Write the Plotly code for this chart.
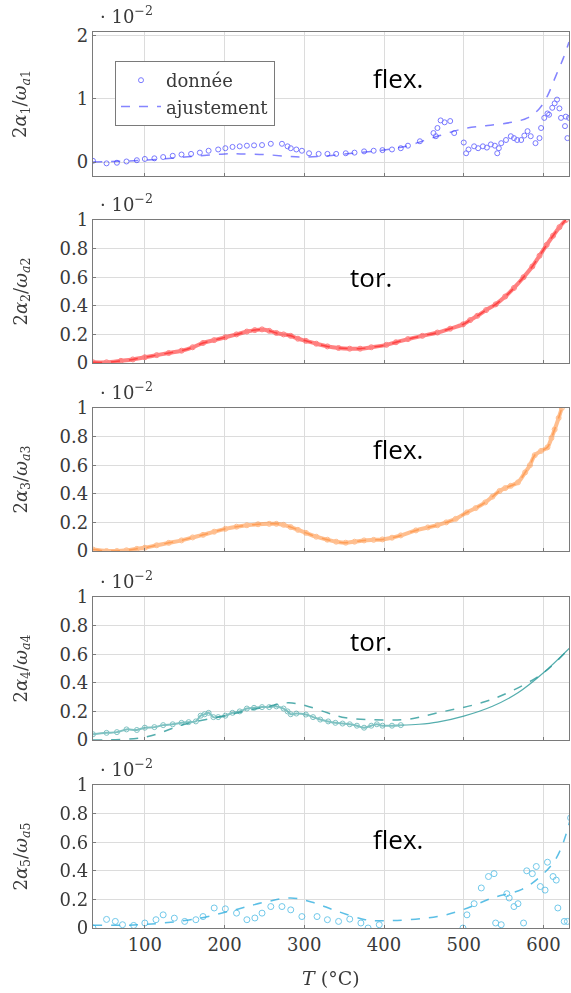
import plotly.graph_objects as go
from plotly.subplots import make_subplots

# ---------------- data ----------------
T1 = [35, 52, 65, 77, 90, 100, 112, 123, 135, 146, 158, 169, 180, 192, 201, 210, 219, 228, 237, 247,
      258, 272, 279, 283, 290, 297, 306, 318, 329, 340, 352, 363, 375, 387, 398, 410, 421, 430, 445,
      462, 465, 467, 471, 476, 483, 488, 500, 503, 506, 513, 518, 524, 529, 534, 539, 542, 544, 547,
      553, 559, 563, 567, 572, 576, 580, 584, 590, 595, 597, 601, 605, 607, 611, 614, 617, 620, 622,
      627, 628, 630, 632]
V1 = [0.02, -0.02, -0.01, 0.01, 0.03, 0.05, 0.06, 0.08, 0.10, 0.12, 0.13, 0.15, 0.18, 0.20, 0.22, 0.24,
      0.25, 0.26, 0.265, 0.27, 0.29, 0.29, 0.25, 0.22, 0.20, 0.18, 0.14, 0.13, 0.13, 0.13, 0.14, 0.15,
      0.17, 0.18, 0.19, 0.20, 0.22, 0.26, 0.33, 0.46, 0.41, 0.54, 0.66, 0.63, 0.65, 0.46, 0.31, 0.14,
      0.20, 0.25, 0.22, 0.25, 0.23, 0.28, 0.26, 0.14, 0.22, 0.30, 0.35, 0.41, 0.38, 0.35, 0.35, 0.42,
      0.49, 0.41, 0.30, 0.38, 0.54, 0.70, 0.77, 0.75, 0.86, 0.93, 0.99, 0.85, 0.70, 0.57, 0.72, 0.38,
      0.70]
TF1 = [35, 100, 150, 200, 220, 250, 280, 300, 330, 360, 400, 430, 450, 470, 500, 530, 560, 580, 595,
       605, 615, 625, 632]
VF1 = [0.0, 0.03, 0.08, 0.13, 0.13, 0.12, 0.09, 0.08, 0.10, 0.14, 0.19, 0.26, 0.34, 0.42, 0.53, 0.58,
       0.63, 0.70, 0.85, 1.05, 1.35, 1.65, 1.90]

T2 = [35, 52, 70, 85, 100, 115, 130, 146, 160, 173, 187, 201, 215, 228, 238, 247, 256, 265, 274, 283,
      292, 302, 315, 329, 343, 357, 370, 384, 403, 415, 430, 448, 467, 483, 499, 508, 517, 528, 540,
      552, 563, 575, 586, 595, 604, 612, 620, 628]
V2 = [0.005, 0.005, 0.015, 0.025, 0.04, 0.055, 0.07, 0.086, 0.11, 0.14, 0.16, 0.18, 0.20, 0.22, 0.23,
      0.235, 0.225, 0.21, 0.20, 0.19, 0.17, 0.155, 0.135, 0.116, 0.105, 0.10, 0.10, 0.11, 0.127, 0.145,
      0.167, 0.19, 0.213, 0.24, 0.27, 0.30, 0.33, 0.37, 0.41, 0.465, 0.525, 0.60, 0.675, 0.75, 0.826,
      0.89, 0.95, 1.0]

T3 = [35, 52, 65, 77, 90, 100, 115, 130, 146, 160, 173, 187, 201, 215, 228, 242, 256, 265, 274, 283,
      292, 302, 315, 329, 340, 352, 363, 375, 387, 398, 410, 421, 440, 455, 467, 478, 490, 504, 515,
      527, 536, 545, 552, 559, 568, 577, 583, 589, 597, 605, 610, 614, 619, 623]
V3 = [0.01, 0.0, 0.0, 0.005, 0.015, 0.023, 0.04, 0.057, 0.074, 0.095, 0.113, 0.135, 0.155, 0.17, 0.18,
      0.187, 0.19, 0.19, 0.183, 0.167, 0.148, 0.127, 0.10, 0.079, 0.065, 0.058, 0.065, 0.074, 0.078,
      0.081, 0.093, 0.109, 0.144, 0.165, 0.18, 0.20, 0.225, 0.27, 0.30, 0.34, 0.38, 0.42, 0.44, 0.456,
      0.48, 0.55, 0.60, 0.67, 0.70, 0.725, 0.79, 0.85, 0.93, 1.0]

T4 = [35, 52, 65, 77, 90, 100, 112, 123, 135, 146, 155, 164, 170, 175, 180, 186, 192, 201, 210, 219,
      228, 237, 247, 256, 265, 274, 279, 283, 290, 302, 311, 320, 330, 339, 348, 357, 366, 375, 384,
      391, 398, 410, 421]
V4 = [0.04, 0.05, 0.055, 0.074, 0.07, 0.086, 0.09, 0.104, 0.11, 0.12, 0.125, 0.13, 0.17, 0.18, 0.19,
      0.16, 0.16, 0.17, 0.19, 0.20, 0.22, 0.225, 0.23, 0.23, 0.235, 0.22, 0.20, 0.18, 0.185, 0.178,
      0.16, 0.143, 0.13, 0.12, 0.115, 0.11, 0.10, 0.086, 0.10, 0.11, 0.10, 0.10, 0.104]
T4B = [421, 444, 467, 500, 536, 568, 600, 634]
V4B = [0.104, 0.11, 0.125, 0.167, 0.236, 0.33, 0.47, 0.65]
TF4 = [35, 100, 150, 200, 250, 280, 302, 329, 352, 398, 430, 467, 522, 559, 600, 634]
VF4 = [0.0, 0.02, 0.11, 0.17, 0.23, 0.26, 0.24, 0.19, 0.155, 0.14, 0.145, 0.19, 0.26, 0.34, 0.47, 0.65]

T5 = [35, 52, 63, 72, 86, 100, 114, 123, 137, 150, 164, 173, 187, 201, 215, 228, 238, 247, 258, 272,
      283, 297, 316, 329, 343, 357, 371, 380, 394, 499, 504, 513, 522, 531, 538, 540, 547, 554, 557,
      563, 568, 575, 579, 586, 591, 596, 602, 605, 612, 616, 618, 626, 630, 634]
V5 = [0.0, 0.06, 0.046, 0.023, 0.018, 0.035, 0.058, 0.092, 0.069, 0.046, 0.058, 0.08, 0.14, 0.134,
      0.104, 0.058, 0.07, 0.104, 0.15, 0.15, 0.127, 0.08, 0.08, 0.058, 0.046, 0.062, 0.035, 0.0, 0.023,
      0.0, 0.092, 0.17, 0.28, 0.36, 0.38, 0.035, 0.023, 0.24, 0.21, 0.15, 0.17, 0.035, 0.40, 0.38, 0.43,
      0.29, 0.265, 0.46, 0.36, 0.335, 0.14, 0.046, 0.046, 0.77]
TF5 = [35, 80, 123, 170, 215, 250, 283, 310, 340, 375, 398, 467, 500, 536, 573, 596, 614, 625, 634]
VF5 = [0.02, 0.02, 0.035, 0.07, 0.13, 0.18, 0.21, 0.18, 0.12, 0.06, 0.05, 0.08, 0.13, 0.21, 0.27,
       0.36, 0.47, 0.60, 0.77]

COLORS = ["#2020ff", "#ff1a1a", "#ff8a33", "#2a9a9a", "#33b0e0"]
MODES = ["flex.", "tor.", "flex.", "tor.", "flex."]
MODE_Y = [1.33, 0.6, 0.71, 0.69, 0.62]
YTITLES = ["2<i>α</i><sub>1</sub>/<i>ω</i><sub><i>a</i>1</sub>",
           "2<i>α</i><sub>2</sub>/<i>ω</i><sub><i>a</i>2</sub>",
           "2<i>α</i><sub>3</sub>/<i>ω</i><sub><i>a</i>3</sub>",
           "2<i>α</i><sub>4</sub>/<i>ω</i><sub><i>a</i>4</sub>",
           "2<i>α</i><sub>5</sub>/<i>ω</i><sub><i>a</i>5</sub>"]
XTICKS = [100, 200, 300, 400, 500, 600]

# ---------------- figure ----------------
W, H = 571, 993
ML, MR, MT, MB = 93, 2, 32, 65
PW, PH = W - ML - MR, H - MT - MB
panel_px = [(32, 176), (220, 363), (408, 551), (597, 740), (785, 928)]
domains = [[(H - MB - b) / PH, (H - MB - t) / PH] for t, b in panel_px]

fig = make_subplots(rows=5, cols=1, shared_xaxes=True)
SERIF = "DejaVu Serif"
TXT = "#3a3a3a"

def marker(c, size=6):
    return dict(symbol="circle-open", size=size, color=c, line=dict(width=1, color=c))

# panel 1
fig.add_trace(go.Scatter(x=T1, y=V1, mode="markers", name="donnée", marker=marker(COLORS[0], 5),
                         opacity=0.6, showlegend=True), row=1, col=1)
fig.add_trace(go.Scatter(x=TF1, y=VF1, mode="lines", name="ajustement",
                         line=dict(color=COLORS[0], width=1.5, dash="dash", shape="spline"),
                         opacity=0.55, showlegend=True), row=1, col=1)
# panel 2
fig.add_trace(go.Scatter(x=T2, y=V2, mode="lines", line=dict(color=COLORS[1], width=1.5, dash="dash", shape="spline"),
                         opacity=0.6, showlegend=False), row=2, col=1)
fig.add_trace(go.Scatter(x=T2, y=V2, mode="lines+markers", marker=marker(COLORS[1], 5),
                         line=dict(color=COLORS[1], width=4, shape="spline"),
                         opacity=0.55, showlegend=False), row=2, col=1)
# panel 3
fig.add_trace(go.Scatter(x=T3, y=V3, mode="lines", line=dict(color=COLORS[2], width=1.5, dash="dash", shape="spline"),
                         opacity=0.6, showlegend=False), row=3, col=1)
fig.add_trace(go.Scatter(x=T3, y=V3, mode="lines+markers", marker=marker(COLORS[2], 5),
                         line=dict(color=COLORS[2], width=4, shape="spline"),
                         opacity=0.55, showlegend=False), row=3, col=1)
# panel 4
fig.add_trace(go.Scatter(x=TF4, y=VF4, mode="lines", line=dict(color=COLORS[3], width=1.5, dash="dash", shape="spline"),
                         opacity=0.8, showlegend=False), row=4, col=1)
fig.add_trace(go.Scatter(x=T4, y=V4, mode="lines+markers", marker=marker(COLORS[3], 5),
                         line=dict(color=COLORS[3], width=2, shape="spline"),
                         opacity=0.6, showlegend=False), row=4, col=1)
fig.add_trace(go.Scatter(x=T4B, y=V4B, mode="lines", line=dict(color=COLORS[3], width=1.2, shape="spline"),
                         opacity=0.8, showlegend=False), row=4, col=1)
# panel 5
fig.add_trace(go.Scatter(x=TF5, y=VF5, mode="lines", line=dict(color=COLORS[4], width=1.5, dash="dash", shape="spline"),
                         opacity=0.8, showlegend=False), row=5, col=1)
fig.add_trace(go.Scatter(x=T5, y=V5, mode="markers", marker=marker(COLORS[4], 6),
                         opacity=0.7, showlegend=False), row=5, col=1)

axis_common = dict(showline=True, linecolor="#7a7a7a", linewidth=1.3, mirror=True,
                   showgrid=True, gridcolor="#dcdcdc", gridwidth=1, zeroline=False,
                   ticks="inside", ticklen=3, tickcolor="#7a7a7a",
                   tickfont=dict(family=SERIF, size=18, color=TXT))

for i in range(5):
    xa = "xaxis" if i == 0 else f"xaxis{i+1}"
    ya = "yaxis" if i == 0 else f"yaxis{i+1}"
    fig.layout[xa].update(range=[35, 632], tickvals=XTICKS, showticklabels=(i == 4), **axis_common)
    if i == 0:
        fig.layout[ya].update(range=[-0.22, 2.06], tickvals=[0, 1, 2], domain=domains[i], **axis_common)
    else:
        fig.layout[ya].update(range=[0, 1], tickvals=[0, 0.2, 0.4, 0.6, 0.8, 1],
                              ticktext=["0", "0.2", "0.4", "0.6", "0.8", "1"],
                              domain=domains[i], **axis_common)

annotations = []
for i in range(5):
    y0, y1 = domains[i]
    yc = (y0 + y1) / 2
    annotations.append(dict(xref="paper", yref="paper", x=(21 - ML) / PW, y=yc, text=YTITLES[i],
                            textangle=-90, showarrow=False, xanchor="center", yanchor="middle",
                            font=dict(family=SERIF, size=18, color=TXT)))
    annotations.append(dict(xref="paper", yref="paper", x=(98 - ML) / PW, y=y1, yshift=3,
                            text="· 10<sup>−2</sup>", showarrow=False, xanchor="left", yanchor="bottom",
                            font=dict(family=SERIF, size=18, color=TXT)))
    xr = f"x{i+1}" if i else "x"
    yr = f"y{i+1}" if i else "y"
    annotations.append(dict(xref=xr, yref=yr, x=418 if MODES[i] == "flex." else 384, y=MODE_Y[i],
                            text=MODES[i], showarrow=False, xanchor="center", yanchor="middle",
                            font=dict(family="Open Sans", size=26, color="black")))

annotations.append(dict(xref="paper", yref="paper", x=0.5, y=0, yshift=-50, text="<i>T</i> (°C)",
                        showarrow=False, xanchor="center", yanchor="middle",
                        font=dict(family=SERIF, size=19, color=TXT)))

fig.update_layout(
    width=W, height=H, margin=dict(l=ML, r=MR, t=MT, b=MB),
    paper_bgcolor="white", plot_bgcolor="white",
    annotations=annotations,
    legend=dict(x=(115 - ML) / PW, y=(H - MB - 61) / PH, xanchor="left", yanchor="top",
                bordercolor="#7a7a7a", borderwidth=1, bgcolor="white", itemwidth=40,
                font=dict(family=SERIF, size=18, color=TXT), tracegroupgap=0),
)

fig.write_html("out.html")
